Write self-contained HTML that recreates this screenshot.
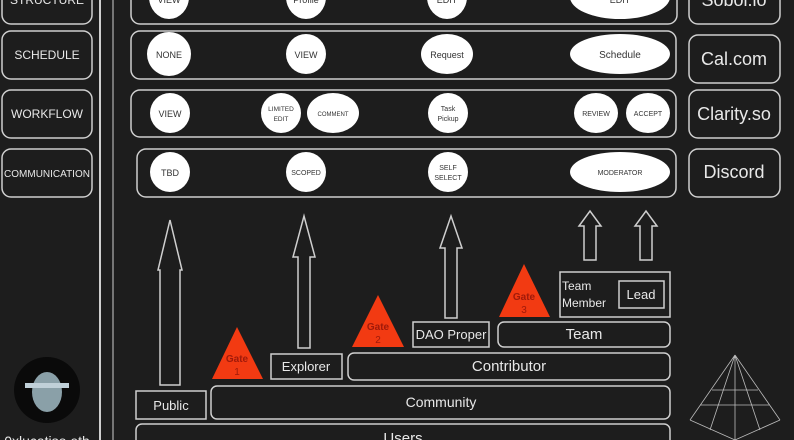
<!DOCTYPE html>
<html><head><meta charset="utf-8"><style>
body{margin:0;background:#1c1c1c;}
svg{display:block;font-family:"Liberation Sans","DejaVu Sans",sans-serif;}
</style></head><body>
<svg width="794" height="440" viewBox="0 0 794 440">
<rect width="794" height="440" fill="#1d1d1d"/>
<g fill="none" stroke="#cfcfcf" stroke-width="1.5">
<!-- left labels -->
<rect x="2" y="-24" width="90" height="48" rx="9"/>
<rect x="2" y="31" width="90" height="48" rx="9"/>
<rect x="2" y="90" width="90" height="48" rx="9"/>
<rect x="2" y="149" width="90" height="48" rx="9"/>
<line x1="100" y1="0" x2="100" y2="440" stroke-width="2"/>
<line x1="113" y1="0" x2="113" y2="440" stroke-width="1"/>
<!-- rows -->
<rect x="131" y="-24" width="546" height="48" rx="9"/>
<rect x="131" y="31" width="545" height="48" rx="9"/>
<rect x="131" y="90" width="545" height="47" rx="9"/>
<rect x="137" y="149" width="539" height="48" rx="9"/>
<!-- right -->
<rect x="689" y="-24" width="91" height="48" rx="9"/>
<rect x="689" y="35" width="91" height="48" rx="9"/>
<rect x="689" y="90" width="91" height="48" rx="9"/>
<rect x="689" y="149" width="91" height="48" rx="9"/>
<!-- arrows -->
<path d="M160 385 V270 H158 L170 220 L182 270 H180 V385 Z"/>
<path d="M298 348 V257 H293 L304 216 L315 257 H310 V348 Z"/>
<path d="M445 318 V248 H440 L451 216 L462 248 H457 V318 Z"/>
<path d="M584 260 V226 H579 L590 211 L601 226 H596 V260 Z"/>
<path d="M640 260 V226 H635 L646 211 L657 226 H652 V260 Z"/>
<!-- boxes -->
<rect x="136" y="391" width="70" height="28"/>
<rect x="211" y="386" width="459" height="33" rx="6"/>
<rect x="271" y="354" width="71" height="25"/>
<rect x="348" y="353" width="322" height="27" rx="6"/>
<rect x="413" y="322" width="76" height="25"/>
<rect x="498" y="322" width="172" height="25" rx="6"/>
<rect x="560" y="272" width="110" height="45"/>
<rect x="619" y="281" width="45" height="27"/>
<rect x="136" y="424" width="534" height="30" rx="6"/>
</g>
<g fill="#ffffff">
<ellipse cx="169" cy="-3" rx="20" ry="22"/><ellipse cx="306" cy="-3" rx="20" ry="22"/><ellipse cx="447" cy="-3" rx="20" ry="22"/><ellipse cx="620" cy="-3" rx="50" ry="22"/>
<ellipse cx="169" cy="54" rx="22" ry="22"/><ellipse cx="306" cy="54" rx="20" ry="20"/><ellipse cx="447" cy="54" rx="26" ry="20"/><ellipse cx="620" cy="54" rx="50" ry="20"/>
<ellipse cx="170" cy="113" rx="20" ry="20"/><ellipse cx="281" cy="113" rx="20" ry="20"/><ellipse cx="333" cy="113" rx="26" ry="20"/><ellipse cx="448" cy="113" rx="20" ry="20"/><ellipse cx="596" cy="113" rx="22" ry="20"/><ellipse cx="648" cy="113" rx="22" ry="20"/>
<ellipse cx="170" cy="172" rx="20" ry="20"/><ellipse cx="306" cy="172" rx="20" ry="20"/><ellipse cx="448" cy="172" rx="20" ry="20"/><ellipse cx="620" cy="172" rx="50" ry="20"/>
</g>
<g fill="#f23a12">
<polygon points="237,327 212,379 263,379"/>
<polygon points="378,295 352,347 404,347"/>
<polygon points="524,264 499,317 550,317"/>
</g>
<g fill="#a01a0a" font-size="10" font-weight="bold" text-anchor="middle">
<text x="237" y="362">Gate</text><text x="237" y="375" font-weight="normal">1</text>
<text x="378" y="330">Gate</text><text x="378" y="343" font-weight="normal">2</text>
<text x="524" y="300">Gate</text><text x="524" y="313" font-weight="normal">3</text>
</g>
<g fill="#e8e8e8" text-anchor="middle" font-size="12">
<text x="47" y="4">STRUCTURE</text>
<text x="47" y="59">SCHEDULE</text>
<text x="47" y="118">WORKFLOW</text>
<text x="47" y="177" font-size="10">COMMUNICATION</text>
<text x="734" y="6" font-size="18">Sobol.io</text>
<text x="734" y="65" font-size="18">Cal.com</text>
<text x="734" y="120" font-size="18">Clarity.so</text>
<text x="734" y="178" font-size="18">Discord</text>
<text x="171" y="410" font-size="13">Public</text>
<text x="441" y="407" font-size="14">Community</text>
<text x="306" y="371" font-size="13">Explorer</text>
<text x="509" y="371" font-size="15">Contributor</text>
<text x="451" y="339" font-size="13">DAO Proper</text>
<text x="584" y="339" font-size="15">Team</text>
<text x="641" y="299" font-size="13">Lead</text>
<text x="403" y="443" font-size="15">Users</text>
<text x="47" y="446" font-size="14">0xlucatiso.eth</text>
</g>
<g fill="#e8e8e8" font-size="12"><text x="562" y="290">Team</text><text x="562" y="307">Member</text></g>
<g fill="#333" text-anchor="middle" font-size="9">
<text x="169" y="3">VIEW</text><text x="306" y="3">Profile</text><text x="447" y="3">EDIT</text><text x="620" y="3">EDIT</text>
<text x="169" y="58">NONE</text><text x="306" y="58">VIEW</text><text x="447" y="58">Request</text><text x="620" y="58" font-size="10">Schedule</text>
<text x="170" y="117">VIEW</text><text x="281" y="111" font-size="6.5">LIMITED</text><text x="281" y="121" font-size="6.5">EDIT</text><text x="333" y="116" font-size="6">COMMENT</text>
<text x="448" y="111" font-size="7">Task</text><text x="448" y="121" font-size="7">Pickup</text>
<text x="596" y="116" font-size="7">REVIEW</text><text x="648" y="116" font-size="7">ACCEPT</text>
<text x="170" y="176">TBD</text><text x="306" y="175" font-size="7">SCOPED</text>
<text x="448" y="170" font-size="7">SELF</text><text x="448" y="180" font-size="7">SELECT</text>
<text x="620" y="175" font-size="7">MODERATOR</text>
</g>
<circle cx="47" cy="390" r="33" fill="#0a0a0a"/>
<ellipse cx="47" cy="392" rx="15" ry="20" fill="#8aa0a8"/>
<rect x="25" y="383" width="44" height="5" fill="#c0d0d8"/>
<g stroke="#bbb" fill="none" stroke-width="0.8">
<path d="M735 355 L690 420 M735 355 L780 420 M735 355 L710 430 M735 355 L760 430 M735 355 L735 440 M690 420 L735 440 L780 420 M700 405 L770 405 M712 390 L758 390"/>
</g>
</svg>
</body></html>
